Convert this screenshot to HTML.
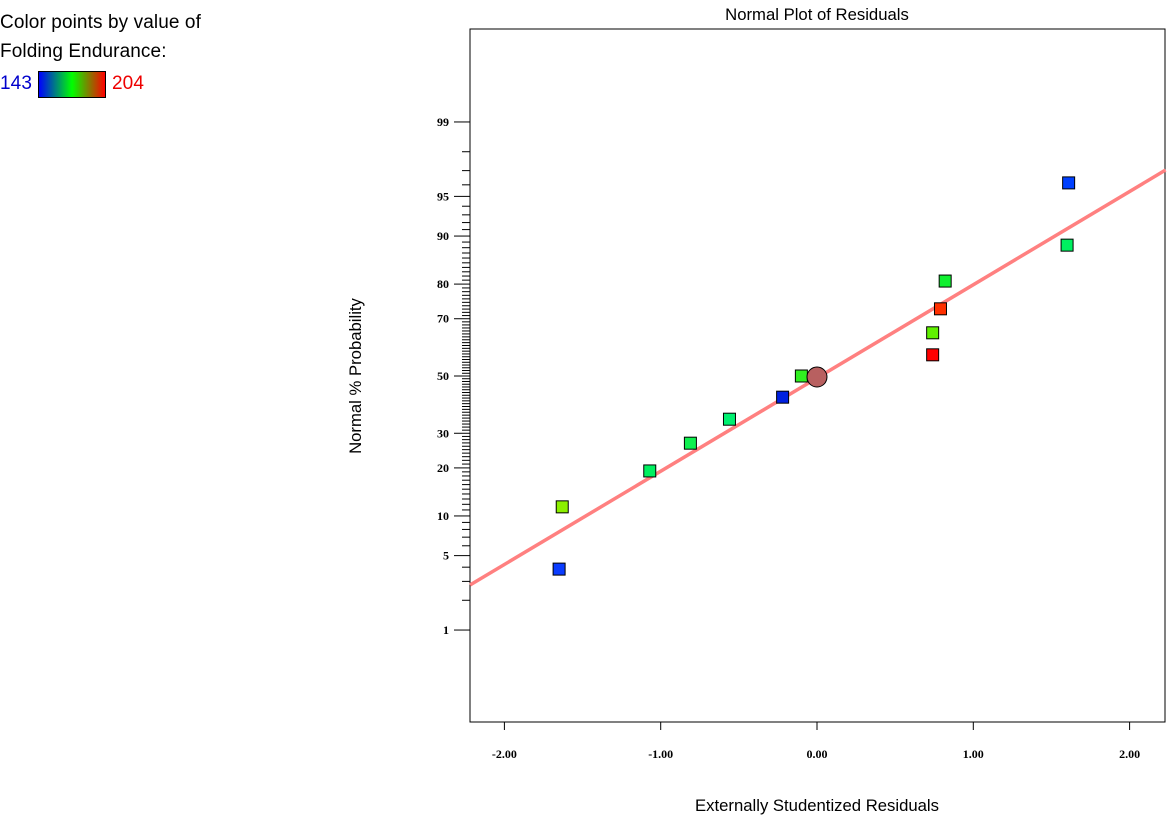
<!DOCTYPE html>
<html><head><meta charset="utf-8"><style>
body{margin:0;background:#fff;width:1169px;height:817px;overflow:hidden;font-family:"Liberation Sans",sans-serif}
.leg{position:absolute;left:0;font-size:19px;color:#000;letter-spacing:0.1px}
</style></head><body>
<div class="leg" style="top:12px">Color points by value of</div>
<div class="leg" style="top:41px">Folding Endurance:</div>
<div class="leg" style="top:73px;color:#00c">143</div>
<div style="position:absolute;left:38px;top:71px;width:66px;height:25px;border:1px solid #000;background:linear-gradient(to right,#0000ff,#00ff00,#ff0000)"></div>
<div class="leg" style="top:73px;left:112px;color:#e00">204</div>
<svg id="chart" width="1169" height="817" style="position:absolute;left:0;top:0"></svg>
<script>
const residuals=[-1.65,-1.63,-1.07,-0.81,-0.56,-0.22,-0.10,0.74,0.74,0.79,0.82,1.60,1.61];
const percents=[3.85,11.54,19.23,26.92,34.62,42.31,50,57.69,65.38,73.08,80.77,88.46,96.15];
const colors=["#0a3cff","#8cf000","#00f060","#10f050","#00f070","#0020e0","#30f020","#ff0000","#60f000","#ff3000","#10f030","#00f060","#0040ff"];
const selected=[0.0,50];
const lineX=[-2.22,2.23];
const lineZ=[-1.914,1.886];
const xTicks=[-2,-1,0,1,2];
const xTickLabels=["-2.00","-1.00","0.00","1.00","2.00"];
const yTicks=[1,5,10,20,30,50,70,80,90,95,99];

const svg=document.getElementById('chart');
const NS='http://www.w3.org/2000/svg';
const L=470,R=1165,T=29,B=722;
function X(v){return 817+v*156.3;}
function zOf(p){p/=100;
const a=[-39.69683028665376,220.9460984245205,-275.9285104469687,138.357751867269,-30.66479806614716,2.506628277459239],
b=[-54.47609879822406,161.5858368580409,-155.6989798598866,66.80131188771972,-13.28068155288572],
c=[-0.007784894002430293,-0.3223964580411365,-2.400758277161838,-2.549732539343734,4.374664141464968,2.938163982698783],
d=[0.007784695709041462,0.3224671290700398,2.445134137142996,3.754408661907416];
let q,r;
if(p<0.02425){q=Math.sqrt(-2*Math.log(p));return (((((c[0]*q+c[1])*q+c[2])*q+c[3])*q+c[4])*q+c[5])/((((d[0]*q+d[1])*q+d[2])*q+d[3])*q+1);}
if(p>1-0.02425){q=Math.sqrt(-2*Math.log(1-p));return -(((((c[0]*q+c[1])*q+c[2])*q+c[3])*q+c[4])*q+c[5])/((((d[0]*q+d[1])*q+d[2])*q+d[3])*q+1);}
q=p-0.5;r=q*q;return (((((a[0]*r+a[1])*r+a[2])*r+a[3])*r+a[4])*r+a[5])*q/(((((b[0]*r+b[1])*r+b[2])*r+b[3])*r+b[4])*r+1);}
function YZ(z){return 376-z*109.2;}
function Y(p){return YZ(zOf(p));}
function el(tag,attrs,txt){const e=document.createElementNS(NS,tag);for(const k in attrs)e.setAttribute(k,attrs[k]);if(txt!=null)e.textContent=txt;svg.appendChild(e);return e;}

let t=el('text',{x:817,y:20,'text-anchor':'middle','font-size':16.7,'font-family':'Liberation Sans, sans-serif'},'Normal Plot of Residuals');


let f=el('rect',{x:L,y:T,width:R-L,height:B-T,fill:'none',stroke:'#000','stroke-width':1});



for(let p=2;p<=98;p++){if(yTicks.includes(p))continue;
 const m=el('line',{x1:L-8,x2:L,y1:Y(p),y2:Y(p),stroke:'#000','stroke-width':1});
 
 }
yTicks.forEach(p=>{
 const m=el('line',{x1:L-16,x2:L,y1:Y(p),y2:Y(p),stroke:'#000','stroke-width':1});
 
 
 const lb=el('text',{x:L-21,y:Y(p)+4,'text-anchor':'end','font-size':12,'font-weight':'bold','font-family':'Liberation Serif, serif'},String(p));
 
 
});
xTicks.forEach((v,i)=>{
 const m=el('line',{x1:X(v),x2:X(v),y1:B,y2:B+8,stroke:'#000','stroke-width':1});
 
 
 const lb=el('text',{x:X(v),y:758,'text-anchor':'middle','font-size':12,'font-weight':'bold','font-family':'Liberation Serif, serif'},xTickLabels[i]);
 
 
});
let xt=el('text',{x:817,y:811,'text-anchor':'middle','font-size':16.7,'font-family':'Liberation Sans, sans-serif'},'Externally Studentized Residuals');


let yt=el('text',{x:0,y:0,transform:'translate(361,376) rotate(-90)','text-anchor':'middle','font-size':16.7,'font-family':'Liberation Sans, sans-serif'},'Normal % Probability');



let ln=el('line',{x1:X(lineX[0]),y1:YZ(lineZ[0]),x2:X(lineX[1]),y2:YZ(lineZ[1]),stroke:'#ff8080','stroke-width':3.5});



residuals.forEach((r,i)=>{
 const s=el('rect',{x:X(r)-6,y:Y(percents[i])-6,width:12,height:12,fill:colors[i],stroke:'#000','stroke-width':1});
 
 
});
let c=el('circle',{cx:X(selected[0]),cy:Y(selected[1])+1,r:10,fill:'#b86060',stroke:'#000','stroke-width':1});


</script>
</body></html>
